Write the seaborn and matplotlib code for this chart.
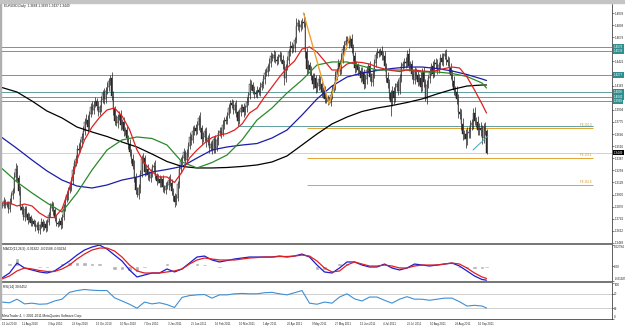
import numpy as np
import matplotlib
matplotlib.use("Agg")
import matplotlib.pyplot as plt
import matplotlib.transforms as mtransforms
from matplotlib.patches import Rectangle
import seaborn as sns

# EURUSD daily bars, bar 0 = 15 Jul 2010, last bar = 22 Sep 2011
first_open = 1.2900
closes = [
    1.2880, 1.2935, 1.2890, 1.2905, 1.2850, 1.2920, 1.2990, 1.3040, 1.3190, 1.3270,
    1.3180, 1.3040, 1.2870, 1.2840, 1.2760, 1.2850, 1.2790, 1.2730, 1.2760, 1.2700,
    1.2720, 1.2690, 1.2650, 1.2680, 1.2620, 1.2670, 1.2710, 1.2650, 1.2690, 1.2640,
    1.2710, 1.2780, 1.2860, 1.2900, 1.2830, 1.2750, 1.2700, 1.2690, 1.2720, 1.2680,
    1.2760, 1.2870, 1.2940, 1.2990, 1.3050, 1.3060, 1.3150, 1.3260, 1.3340, 1.3380,
    1.3490, 1.3480, 1.3560, 1.3620, 1.3680, 1.3780, 1.3800, 1.3720, 1.3860, 1.3940,
    1.3900, 1.3960, 1.4000, 1.3950, 1.3880, 1.3930, 1.4010, 1.4080, 1.4020, 1.4110,
    1.4150, 1.4210, 1.4240, 1.4050, 1.3910, 1.3790, 1.3760, 1.3830, 1.3850, 1.3740,
    1.3770, 1.3680, 1.3690, 1.3600, 1.3540, 1.3450, 1.3380, 1.3310, 1.3190, 1.3050,
    1.2990, 1.3070, 1.3220, 1.3380, 1.3390, 1.3240, 1.3270, 1.3210, 1.3180, 1.3230,
    1.3290, 1.3310, 1.3200, 1.3150, 1.3170, 1.3120, 1.3170, 1.3080, 1.3050, 1.3090,
    1.3100, 1.3160, 1.3120, 1.3040, 1.2980, 1.2920, 1.2960, 1.3110, 1.3270, 1.3360,
    1.3390, 1.3450, 1.3370, 1.3440, 1.3520, 1.3620, 1.3580, 1.3680, 1.3710, 1.3680,
    1.3740, 1.3820, 1.3710, 1.3590, 1.3620, 1.3680, 1.3560, 1.3600, 1.3500, 1.3540,
    1.3480, 1.3590, 1.3500, 1.3580, 1.3660, 1.3680, 1.3650, 1.3740, 1.3800, 1.3790,
    1.3850, 1.3920, 1.3980, 1.3960, 1.3900, 1.3960, 1.3880, 1.3790, 1.3880, 1.3920,
    1.3930, 1.3880, 1.3930, 1.3990, 1.4060, 1.4180, 1.4170, 1.4110, 1.4080, 1.4070,
    1.4120, 1.4100, 1.4150, 1.4180, 1.4230, 1.4300, 1.4310, 1.4360, 1.4410, 1.4480,
    1.4460, 1.4490, 1.4440, 1.4430, 1.4470, 1.4490, 1.4440, 1.4390, 1.4240, 1.4360,
    1.4440, 1.4520, 1.4590, 1.4560, 1.4570, 1.4650, 1.4800, 1.4830, 1.4790, 1.4810,
    1.4840, 1.4830, 1.4520, 1.4340, 1.4380, 1.4330, 1.4270, 1.4180, 1.4240, 1.4140,
    1.4160, 1.4230, 1.4180, 1.4090, 1.4120, 1.4020, 1.4030, 1.4000, 1.3980, 1.4060,
    1.4130, 1.4160, 1.4260, 1.4320, 1.4400, 1.4320, 1.4450, 1.4550, 1.4600, 1.4640,
    1.4650, 1.4620, 1.4660, 1.4560, 1.4480, 1.4350, 1.4380, 1.4330, 1.4320, 1.4250,
    1.4310, 1.4180, 1.4230, 1.4330, 1.4370, 1.4260, 1.4200, 1.4290, 1.4400, 1.4490,
    1.4520, 1.4510, 1.4530, 1.4490, 1.4480, 1.4370, 1.4250, 1.4190, 1.4080, 1.3990,
    1.4110, 1.4030, 1.4150, 1.4180, 1.4110, 1.4250, 1.4370, 1.4390, 1.4420, 1.4400,
    1.4500, 1.4370, 1.4390, 1.4290, 1.4220, 1.4320, 1.4280, 1.4200, 1.4250, 1.4150,
    1.4310, 1.4200, 1.4020, 1.4170, 1.4240, 1.4310, 1.4370, 1.4290, 1.4410, 1.4390,
    1.4330, 1.4380, 1.4460, 1.4420, 1.4480, 1.4500, 1.4440, 1.4420, 1.4350, 1.4280,
    1.4210, 1.4120, 1.4100, 1.4020, 1.3880, 1.3860, 1.3750, 1.3650, 1.3650, 1.3590,
    1.3660, 1.3670, 1.3740, 1.3760, 1.3870, 1.3790, 1.3780, 1.3690, 1.3710, 1.3690,
    1.3600, 1.3720, 1.3684, 1.3449,
]
# wick length above / below the body, in pips
hi_wick = [
    22, 35, 18, 30, 26, 41, 33, 28, 47, 63, 44, 30, 52, 27, 35, 24, 31, 22, 38, 25,
    29, 21, 33, 26, 37, 18, 42, 24, 30, 35, 27, 39, 46, 31, 22, 35, 28, 19, 34, 41,
    30, 26, 38, 44, 29, 52, 33, 40, 27, 45, 36, 58, 31, 42, 49, 37, 55, 46, 33, 41,
    62, 38, 47, 35, 53, 29, 44, 39, 56, 34, 48, 37, 42, 66, 51, 39, 60, 33, 45, 52,
    38, 57, 30, 46, 41, 54, 36, 49, 62, 40, 35, 48, 44, 39, 58, 31, 43, 52, 37, 46,
    41, 33, 55, 29, 47, 38, 30, 44, 26, 39, 50, 34, 62, 41, 28, 37, 45, 33, 48, 40,
    36, 52, 29, 44, 38, 47, 31, 56, 35, 42, 49, 30, 58, 37, 43, 28, 46, 39, 53, 34,
    40, 31, 47, 36, 29, 45, 38, 51, 27, 44, 35, 48, 30, 42, 55, 33, 46, 28, 39, 50,
    37, 44, 31, 49, 36, 58, 42, 30, 45, 34, 41, 29, 47, 35, 52, 38, 43, 31, 46, 40,
    33, 55, 39, 44, 30, 48, 36, 51, 42, 37, 45, 32, 49, 38, 41, 34, 86, 47, 39, 52,
    44, 99, 63, 41, 56, 37, 48, 32, 53, 40, 38, 51, 34, 46, 29, 43, 37, 30, 45, 49,
    36, 42, 55, 31, 47, 39, 58, 44, 35, 50, 41, 33, 35, 52, 46, 38, 49, 30, 44, 37,
    53, 35, 47, 40, 31, 56, 42, 38, 49, 34, 45, 37, 30, 52, 41, 48, 35, 58, 43, 39,
    50, 36, 44, 31, 55, 40, 47, 33, 38, 52, 44, 61, 35, 48, 39, 45, 30, 53, 37, 58,
    42, 49, 36, 55, 33, 46, 40, 51, 38, 44, 57, 35, 42, 48, 31, 48, 53, 39, 45, 60,
    47, 55, 38, 62, 50, 44, 58, 66, 41, 53, 60, 48, 57, 45, 52, 70, 43, 56, 49, 62,
    51, 44, 58, 15,
]
lo_wick = [
    28, 20, 37, 25, 48, 31, 22, 36, 27, 40, 33, 45, 39, 52, 28, 43, 30, 47, 26, 38,
    41, 24, 35, 29, 30, 44, 27, 39, 33, 42, 25, 31, 22, 38, 46, 29, 40, 34, 27, 43,
    36, 28, 41, 24, 47, 32, 26, 39, 44, 30, 48, 35, 29, 51, 33, 40, 27, 54, 38, 31,
    45, 36, 29, 52, 41, 34, 47, 30, 56, 38, 33, 49, 40, 37, 58, 44, 31, 53, 39, 46,
    35, 50, 42, 38, 55, 33, 47, 41, 60, 44, 21, 39, 52, 34, 46, 41, 30, 55, 37, 43,
    38, 46, 33, 51, 29, 44, 36, 49, 31, 42, 35, 47, 30, 43, 52, 53, 36, 28, 45, 39,
    42, 31, 50, 37, 44, 29, 55, 34, 40, 47, 33, 46, 38, 57, 30, 43, 49, 35, 52, 39,
    44, 36, 51, 30, 47, 38, 42, 29, 45, 33, 40, 31, 48, 37, 44, 30, 53, 60, 35, 42,
    38, 49, 33, 45, 30, 41, 52, 36, 47, 31, 43, 35, 48, 30, 39, 46, 33, 42, 37, 50,
    36, 44, 31, 49, 38, 45, 33, 52, 70, 40, 31, 43, 37, 50, 35, 46, 32, 41, 55, 38,
    44, 36, 58, 63, 40, 51, 45, 57, 38, 60, 47, 39, 52, 43, 55, 38, 46, 41, 12, 36,
    40, 33, 48, 37, 52, 44, 35, 41, 30, 46, 38, 51, 36, 45, 57, 49, 40, 53, 37, 48,
    42, 55, 39, 47, 34, 50, 43, 38, 45, 33, 36, 41, 30, 48, 39, 55, 47, 52, 60, 150,
    44, 58, 37, 49, 42, 36, 45, 31, 40, 47, 39, 52, 35, 57, 44, 38, 50, 42, 33, 55,
    41, 47, 20, 52, 36, 44, 30, 49, 38, 42, 46, 35, 40, 33, 48, 37, 52, 45, 56, 49,
    53, 60, 47, 58, 65, 52, 61, 70, 57, 95, 62, 55, 68, 51, 59, 48, 63, 56, 52, 60,
    58, 49, 53, 12,
]

# slow moving averages, read every 10 bars
slow_idx = list(range(0, 321, 10)) + [323]
ma_black = [1.4143, 1.4095, 1.3999, 1.3892, 1.3818, 1.3721, 1.3668, 1.3620, 1.3561, 1.3508,
            1.3433, 1.3353, 1.3300, 1.3284, 1.3284, 1.3289, 1.3300, 1.3316, 1.3348, 1.3412,
            1.3529, 1.3647, 1.3754, 1.3828, 1.3887, 1.3924, 1.3951, 1.3983, 1.4021, 1.4074,
            1.4122, 1.4159, 1.4170, 1.4170]
ma_blue = [1.3609, 1.3492, 1.3369, 1.3252, 1.3155, 1.3091, 1.3070, 1.3102, 1.3155, 1.3187,
           1.3241, 1.3268, 1.3300, 1.3390, 1.3476, 1.3508, 1.3529, 1.3545, 1.3604, 1.3689,
           1.3849, 1.4021, 1.4159, 1.4255, 1.4298, 1.4325, 1.4346, 1.4362, 1.4362, 1.4346,
           1.4320, 1.4282, 1.4234, 1.4218]
ma_green = [1.3278, 1.3134, 1.3017, 1.2910, 1.2814, 1.3017, 1.3262, 1.3476, 1.3583, 1.3615,
            1.3599, 1.3529, 1.3348, 1.3284, 1.3342, 1.3422, 1.3583, 1.3796, 1.3924, 1.4085,
            1.4223, 1.4384, 1.4416, 1.4416, 1.4373, 1.4330, 1.4330, 1.4330, 1.4309, 1.4309,
            1.4293, 1.4261, 1.4191, 1.4138]

# fast series, read every 5 bars
fast_idx = list(range(0, 321, 5)) + [323]
ma_red = [1.2910, 1.2910, 1.2878, 1.2899, 1.2878, 1.2803, 1.2755, 1.2755, 1.2846, 1.3070,
          1.3369, 1.3583, 1.3721, 1.3823, 1.3903, 1.3924, 1.3839, 1.3695, 1.3476, 1.3337,
          1.3241, 1.3188, 1.3188, 1.3129, 1.3241, 1.3390, 1.3476, 1.3550, 1.3609, 1.3636,
          1.3652, 1.3689, 1.3753, 1.3871, 1.3924, 1.4042, 1.4149, 1.4256, 1.4352, 1.4426,
          1.4554, 1.4576, 1.4522, 1.4426, 1.4330, 1.4330, 1.4394, 1.4416, 1.4410, 1.4394,
          1.4362, 1.4341, 1.4325, 1.4314, 1.4330, 1.4330, 1.4320, 1.4314, 1.4325, 1.4346,
          1.4362, 1.4352, 1.4256, 1.4117, 1.3967, 1.3871]
macd_main = [-0.0153, -0.0088, 0.0043, -0.0022, -0.0048, -0.0074, -0.0088, -0.0061, 0.0004, 0.0070,
             0.0148, 0.0214, 0.0253, 0.0279, 0.0227, 0.0148, 0.0070, -0.0048, -0.0140, -0.0114,
             -0.0088, -0.0088, -0.0035, -0.0074, -0.0035, 0.0043, 0.0122, 0.0135, 0.0083, 0.0057,
             0.0076, 0.0096, 0.0109, 0.0122, 0.0122, 0.0122, 0.0122, 0.0135, 0.0122, 0.0135,
             0.0161, 0.0122, 0.0017, -0.0074, -0.0088, -0.0022, 0.0057, 0.0057, 0.0017, -0.0009,
             -0.0009, 0.0030, -0.0022, -0.0048, -0.0022, 0.0030, 0.0017, 0.0004, 0.0017, 0.0030,
             0.0043, 0.0004, -0.0061, -0.0127, -0.0173, -0.0182]
macd_signal = [-0.0166, -0.0127, -0.0061, -0.0022, -0.0035, -0.0055, -0.0068, -0.0068, -0.0035, 0.0017,
               0.0096, 0.0161, 0.0214, 0.0240, 0.0240, 0.0201, 0.0122, 0.0017, -0.0061, -0.0088,
               -0.0088, -0.0088, -0.0074, -0.0061, -0.0035, 0.0030, 0.0083, 0.0109, 0.0096, 0.0083,
               0.0083, 0.0083, 0.0096, 0.0109, 0.0115, 0.0122, 0.0122, 0.0129, 0.0129, 0.0135,
               0.0148, 0.0135, 0.0070, -0.0022, -0.0074, -0.0061, 0.0017, 0.0057, 0.0030, 0.0004,
               0.0004, 0.0017, 0.0004, -0.0022, -0.0022, 0.0004, 0.0017, 0.0017, 0.0017, 0.0030,
               0.0043, 0.0030, -0.0022, -0.0088, -0.0140, -0.0159]
rsi_vals = [47, 45, 55, 42, 44, 41, 42, 50, 55, 74,
            79, 82, 80, 79, 79, 59, 50, 41, 30, 47,
            42, 45, 40, 32, 60, 65, 67, 68, 58, 67,
            67, 70, 71, 70, 70, 73, 74, 70, 67, 73,
            79, 44, 41, 47, 44, 61, 70, 56, 50, 61,
            61, 52, 44, 55, 62, 55, 55, 52, 55, 58,
            58, 48, 36, 38, 36, 30.6]

date_ticks = [0, 13, 31, 47, 63, 79, 95, 111, 126, 142, 158, 174, 190, 207, 222, 239, 254, 270, 285, 302, 317]
date_labels = ["15 Jul 2010", "11 Aug 2010", "3 Sep 2010", "23 Sep 2010", "15 Oct 2010", "10 Nov 2010",
               "7 Dec 2010", "3 Jan 2011", "25 Jan 2011", "16 Feb 2011", "10 Mar 2011", "1 Apr 2011",
               "20 Apr 2011", "9 May 2011", "27 May 2011", "15 Jun 2011", "4 Jul 2011", "22 Jul 2011",
               "10 Aug 2011", "29 Aug 2011", "16 Sep 2011"]
price_ticks = [1.2483, 1.2612, 1.2741, 1.2870, 1.3000, 1.3129, 1.3258, 1.3387, 1.3516, 1.3646,
               1.3775, 1.3904, 1.4033, 1.4163, 1.4292, 1.4421, 1.4550, 1.4679, 1.4809, 1.4938]

level_lines = [1.4576, 1.4533, 1.4277, 1.4095, 1.4042, 1.3999]
fib_levels = [1.3716, 1.3390, 1.3102]
fib_names = ["FE 100.0", "FE 138.2", "FE 161.8"]
zigzag_idx = [201, 218, 232]
zigzag_px = [1.4939, 1.3968, 1.4695]
trend_idx = [314, 324]
trend_px = [1.3476, 1.3626]
bid = 1.3449

sns.set_style("white")
plt.rcParams["font.family"] = ["Liberation Sans", "DejaVu Sans"]
NARROW = ["Liberation Sans Narrow", "Liberation Sans", "DejaVu Sans"]

W, H = 625, 327
fig = plt.figure(figsize=(W / 100, H / 100), dpi=100)
fig.patch.set_facecolor("white")


def px_axes(x0, y0, x1, y1):
    return fig.add_axes([x0 / W, 1 - y1 / H, (x1 - x0) / W, (y1 - y0) / H])


XLIM = (-2 / 1.5, 610 / 1.5)
FS = 2.3
AFS = 2.2

ax = px_axes(0, 4, 612, 244)
axm = px_axes(0, 245, 612, 282)
axr = px_axes(0, 283, 612, 319)

for a in (ax, axm, axr):
    a.set_facecolor("white")
    a.set_xlim(*XLIM)
    a.yaxis.tick_right()
    a.tick_params(axis="y", labelsize=AFS, length=1.2, width=0.4, pad=0.5, colors="#202020")
    for s in ("left", "top"):
        a.spines[s].set_visible(False)
    a.spines["right"].set_linewidth(0.5)
    a.spines["right"].set_color("#202020")

for a in (ax, axm):
    a.spines["bottom"].set_color("#6a6a6a")
    a.spines["bottom"].set_linewidth(1.3)
    a.set_xticks([])
axr.spines["bottom"].set_linewidth(0.5)
axr.spines["bottom"].set_color("#202020")

# ---- main price panel
ax.set_ylim(1.2472, 1.5035)
ax.set_yticks(price_ticks)
ax.set_yticklabels([f"{p:.4f}" for p in price_ticks], family=NARROW)

for lv in level_lines:
    ax.axhline(lv, color="#5f9ea0", lw=0.7, zorder=1)
ax.hlines(1.3730, 157, 394, color="#5f9ea0", lw=0.7, zorder=1)
ax.axhline(bid, color="#c8c8c8", lw=0.6, zorder=1)
ax.hlines(fib_levels, 203, 394, color="#e3a232", lw=0.7, zorder=1)
for lv, name in zip(fib_levels, fib_names):
    ax.text(393, lv + 0.0006, name, ha="right", va="bottom", fontsize=2.0, color="#d09020")

o = np.array([first_open] + closes[:-1])
c = np.array(closes)
hi = np.maximum(o, c) + np.array(hi_wick) / 1e4
lo = np.minimum(o, c) - np.array(lo_wick) / 1e4
idx = np.arange(len(c))
ax.vlines(idx, lo, hi, color="#1e1e1e", lw=0.5, zorder=3)
body_col = ["white" if up else "#3a2c2c" for up in (c >= o)]
ax.bar(idx, np.maximum(np.abs(c - o), 0.0004), bottom=np.minimum(o, c), width=0.6,
       color=body_col, edgecolor="#1e1e1e", linewidth=0.3, zorder=4)

sns.lineplot(x=slow_idx, y=ma_black, ax=ax, color="black", linewidth=0.9, legend=False, zorder=5)
sns.lineplot(x=slow_idx, y=ma_blue, ax=ax, color="#1c1ca8", linewidth=0.9, legend=False, zorder=5)
sns.lineplot(x=slow_idx, y=ma_green, ax=ax, color="#2a8a2a", linewidth=0.9, legend=False, zorder=5)
sns.lineplot(x=fast_idx, y=ma_red, ax=ax, color="#e02020", linewidth=0.9, legend=False, zorder=5)
sns.lineplot(x=zigzag_idx, y=zigzag_px, ax=ax, color="#f0a030", linewidth=1.0, legend=False, zorder=6)
ax.plot(trend_idx, trend_px, color="#3aa6c4", lw=0.7, zorder=6)

tr = mtransforms.blended_transform_factory(ax.transAxes, ax.transData)
for lv in level_lines:
    ax.text(1.003, lv, f"{lv:.4f}", transform=tr, fontsize=AFS, family=NARROW, color="white",
            va="center", ha="left", clip_on=False, zorder=10,
            bbox=dict(boxstyle="square,pad=0.2", fc="#2f8f8f", ec="none"))
ax.text(1.003, bid, f"{bid:.4f}", transform=tr, fontsize=AFS, family=NARROW, color="white",
        va="center", ha="left", clip_on=False, zorder=10,
        bbox=dict(boxstyle="square,pad=0.2", fc="black", ec="none"))

# ---- MACD panel
hist = np.array(macd_main) - np.array(macd_signal)
axm.set_ylim(-0.0206, 0.0280)
axm.bar(fast_idx, hist, width=3, color="#b0b0b0", zorder=1)
sns.lineplot(x=fast_idx, y=macd_main, ax=axm, color="#1c1cd0", linewidth=0.9, legend=False, zorder=3)
sns.lineplot(x=fast_idx, y=macd_signal, ax=axm, color="#e02020", linewidth=0.9, legend=False, zorder=3)
axm.set_yticks([0.02794, 0.0, -0.01925])
axm.set_yticklabels(["0.02794", "0.00", "-0.01925"], family=NARROW)
labs = axm.get_yticklabels()
labs[0].set_va("top")
labs[2].set_va("bottom")

# ---- RSI panel
axr.set_ylim(0, 100)
axr.axhline(70, color="#c8c8c8", lw=0.6, zorder=1)
axr.axhline(30, color="#c8c8c8", lw=0.6, zorder=1)
sns.lineplot(x=fast_idx, y=rsi_vals, ax=axr, color="#3d8fd6", linewidth=0.8, legend=False, zorder=3)
axr.set_yticks([100, 70, 30, 0])
axr.set_yticklabels(["100", "70", "30", "0"], family=NARROW)
rl = axr.get_yticklabels()
rl[0].set_va("top")
rl[3].set_va("bottom")
axr.set_xticks(date_ticks)
axr.set_xticklabels(date_labels, fontsize=2.0, ha="left", color="#202020")
axr.tick_params(axis="x", length=1.5, width=0.4, pad=0.6)
for a in (ax, axm, axr):
    a.set_xlabel("")
    a.set_ylabel("")


def fx(px):
    return px / W


def fy(py):
    return 1 - py / H


# window border
fig.patches.append(Rectangle((0, fy(3)), 1, 3 / H, transform=fig.transFigure, color="#c4c4c4", zorder=0))
fig.patches.append(Rectangle((0, fy(319)), 1.5 / W, 315 / H, transform=fig.transFigure, color="#b0b0b0", zorder=0))

fig.text(fx(4), fy(5.5), "EURUSD,Daily  1.3684 1.3699 1.3437 1.3449", fontsize=FS, va="center", color="#202020")
fig.text(fx(3), fy(249), "MACD(12,26,9) -0.01822 -0.01588 -0.00234", fontsize=FS, va="center", color="#202020")
fig.text(fx(3), fy(287), "RSI(14) 30.6452", fontsize=FS, va="center", color="#202020")
fig.text(fx(2), fy(316), "MetaTrader 4, \u00a9 2001-2011 MetaQuotes Software Corp.", fontsize=FS,
         va="center", color="#202020")

fig.savefig("out.png", dpi=100)
